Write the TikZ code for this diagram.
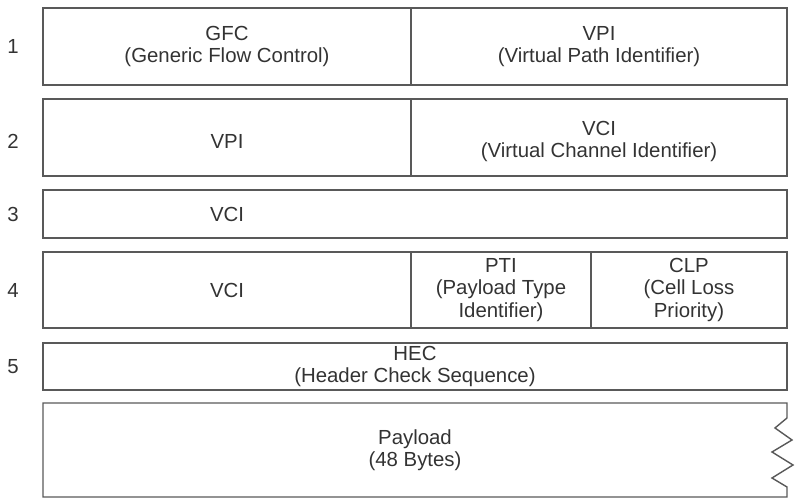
\documentclass[tikz,border=0pt]{standalone}
\usepackage{fontspec}
\setmainfont{Liberation Sans}

\begin{document}
\begin{tikzpicture}[line width=1pt,
  caja/.style={draw=black!65},
  campo/.style={align=center,inner sep=0pt,text=black!80,font=\fontsize{14.5}{16}\selectfont},
  num/.style={inner sep=0pt,text=black!80,font=\fontsize{14.5}{16}\selectfont}]
  \useasboundingbox (0,0) rectangle (19.875,12.475);
  % octeto 1: GFC | VPI
  \draw[caja] (1.075,10.35) rectangle (19.675,12.275); \draw[caja] (10.275,10.35)--(10.275,12.275);
  \node[num] (n1) at (0.325,11.3125){1};
  \node[campo] (gfc) at (5.675,11.3125){GFC\\(Generic Flow Control)};
  \node[campo] (vpia) at (14.975,11.3125){VPI\\(Virtual Path Identifier)};
  % octeto 2: VPI | VCI
  \draw[caja] (1.075,8.075) rectangle (19.675,10.0); \draw[caja] (10.275,8.075)--(10.275,10.0);
  \node[num] (n2) at (0.325,8.9375){2};
  \node[campo] (vpib) at (5.675,8.9375){VPI};
  \node[campo] (vcia) at (14.975,8.9375){VCI\\(Virtual Channel Identifier)};
  % octeto 3: VCI
  \draw[caja] (1.075,6.525) rectangle (19.675,7.725);
  \node[num] (n3) at (0.325,7.125){3};
  \node[campo] (vcib) at (5.675,7.125){VCI};
  % octeto 4: VCI | PTI | CLP
  \draw[caja] (1.075,4.275) rectangle (19.675,6.175);
  \draw[caja] (10.275,4.275)--(10.275,6.175); \draw[caja] (14.775,4.275)--(14.775,6.175);
  \node[num] (n4) at (0.325,5.225){4};
  \node[campo] (vcic) at (5.675,5.225){VCI};
  \node[campo] (pti) at (12.525,5.225){PTI\\(Payload Type\\Identifier)};
  \node[campo] (clp) at (17.225,5.225){CLP\\(Cell Loss\\Priority)};
  % octeto 5: HEC
  \draw[caja] (1.075,2.725) rectangle (19.675,3.9);
  \node[num] (n5) at (0.325,3.3125){5};
  \node[campo] (hec) at (10.375,3.3125){HEC\\(Header Check Sequence)};
  % carga util (borde derecho cortado)
  \draw[caja] (1.075,0.05)--(1.075,2.4)--(19.675,2.4)--(19.675,2.025)--(19.375,1.775)--(19.8,1.475)
    --(19.3,1.175)--(19.825,0.85)--(19.3,0.525)--(19.675,0.3)--(19.675,0.05)--cycle;
  \node[campo] (carga) at (10.375,1.225){Payload\\(48 Bytes)};
\end{tikzpicture}
\end{document}
